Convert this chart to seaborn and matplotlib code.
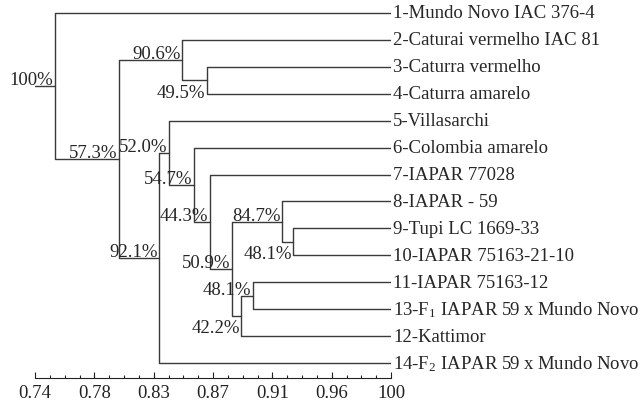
import numpy as np
import pandas as pd
import seaborn as sns
import matplotlib.pyplot as plt

sns.set_style('white')
plt.rcParams['font.family'] = ['Liberation Serif', 'DejaVu Serif']
plt.rcParams['mathtext.fontset'] = 'custom'
plt.rcParams['mathtext.rm'] = 'Liberation Serif'

# leaves, top to bottom
leaf_labels = ["1-Mundo Novo IAC 376-4", "2-Caturai vermelho IAC 81",
               "3-Caturra vermelho", "4-Caturra amarelo", "5-Villasarchi",
               "6-Colombia amarelo", "7-IAPAR 77028", "8-IAPAR - 59",
               "9-Tupi LC 1669-33", "10-IAPAR 75163-21-10", "11-IAPAR 75163-12",
               r"13-$\mathregular{F_1}$ IAPAR 59 x Mundo Novo", "12-Kattimor",
               r"14-$\mathregular{F_2}$ IAPAR 59 x Mundo Novo"]

# merges: child a, child b (leaf index or 14+ for earlier merges), similarity
merge_a = [2, 1, 8, 7, 10, 18, 17, 6, 5, 4, 23, 15, 0]
merge_b = [3, 14, 9, 16, 11, 12, 19, 20, 21, 22, 13, 24, 25]
merge_sim = [0.8656, 0.8474, 0.9285, 0.9204, 0.8992, 0.8905, 0.8840,
             0.8678, 0.8560, 0.8380, 0.8306, 0.8014, 0.7546]
boot = ["49.5%", "90.6%", "48.1%", "84.7%", "48.1%", "42.2%", "50.9%",
        "44.3%", "54.7%", "52.0%", "92.1%", "57.3%", "100%"]
boot_below = [True, False, True, False, False, True, False,
              False, False, False, False, False, False]

tick_vals = [0.74, 0.7833, 0.8267, 0.87, 0.9133, 0.9567, 1.0]
tick_labels = ["0.74", "0.78", "0.83", "0.87", "0.91", "0.96", "100"]

n = len(leaf_labels)
pos_x = {i: 1.0 for i in range(n)}
pos_y = {i: float(i) for i in range(n)}
segs = []
for k, (a, b, s) in enumerate(zip(merge_a, merge_b, merge_sim)):
    node = n + k
    segs.append([(pos_x[a], pos_y[a]), (s, pos_y[a]), (s, pos_y[b]), (pos_x[b], pos_y[b])])
    pos_x[node] = s
    pos_y[node] = (pos_y[a] + pos_y[b]) / 2
root = n + len(merge_sim) - 1
segs.append([(0.74, pos_y[root]), (pos_x[root], pos_y[root])])

rows = []
for sid, seg in enumerate(segs):
    for x, y in seg:
        rows.append({'seg': sid, 'x': x, 'y': y})
df = pd.DataFrame(rows)

fig = plt.figure(figsize=(6.44, 4.06), dpi=100)
ax = fig.add_axes([35 / 644, 27 / 406, 356 / 644, 379 / 406])
sns.lineplot(data=df, x='x', y='y', units='seg', estimator=None, sort=False,
             color='#3a3a3a', linewidth=1.0, ax=ax)

fs = 13.5
for i, lab in enumerate(leaf_labels):
    ax.text(1.0015, i, lab, ha='left', va='center', fontsize=fs, clip_on=False)

for k, lab in enumerate(boot):
    node = n + k
    if boot_below[k]:
        ax.annotate(lab, (pos_x[node], pos_y[node]), xytext=(-1, -2.5),
                    textcoords='offset points', ha='right', va='top', fontsize=fs)
    else:
        ax.annotate(lab, (pos_x[node], pos_y[node]), xytext=(-1, 1.5),
                    textcoords='offset points', ha='right', va='baseline', fontsize=fs)

ax.set_xlim(0.74, 1.0)
ax.set_ylim(13.56, -0.52)
ax.set_xlabel('')
ax.set_ylabel('')
ax.set_yticks([])
ax.set_xticks(tick_vals)
ax.set_xticklabels(tick_labels, fontsize=fs)
ax.set_xticks(np.linspace(0.74, 1.0, 25), minor=True)
ax.tick_params(axis='x', which='major', direction='in', length=4.5, width=0.8,
               pad=4, colors='#222222', bottom=True)
ax.tick_params(axis='x', which='minor', direction='in', length=2.2, width=0.8,
               bottom=True, colors='#222222')
for side in ['top', 'right', 'left']:
    ax.spines[side].set_visible(False)
ax.spines['bottom'].set_color('#222222')
ax.spines['bottom'].set_linewidth(0.8)
ax.patch.set_alpha(0)

fig.savefig('out.png', dpi=100)
